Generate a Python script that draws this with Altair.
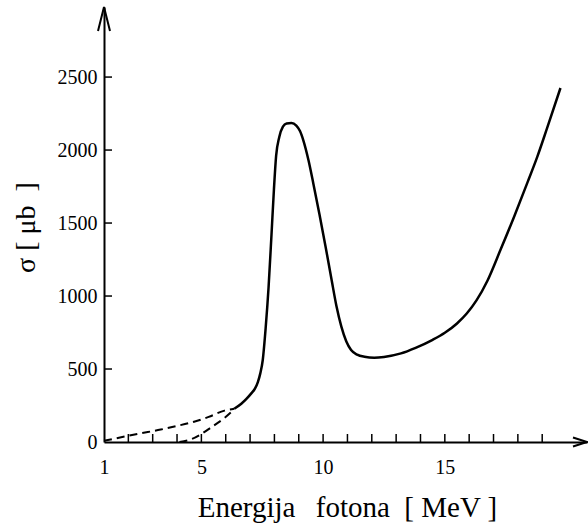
import altair as alt
import pandas as pd

# Solid measured curve
solid_x = [6.35, 6.64, 6.85, 7.05, 7.2, 7.32, 7.42, 7.52, 7.64, 7.76, 7.88, 7.98, 8.07, 8.2, 8.35,
           8.5, 8.7, 8.9, 9.05, 9.2, 9.4, 9.6, 9.85, 10.1, 10.35, 10.55, 10.75, 10.95, 11.15,
           11.4, 11.7, 12.1, 12.5, 13.2, 13.8, 14.5, 15.0, 15.5, 15.9, 16.3, 16.75, 17.3, 17.85,
           18.4, 18.8, 19.2, 19.75]
solid_y = [228, 262, 295, 333, 365, 410, 470, 560, 780, 1060, 1420, 1730, 1960, 2090, 2160,
           2182, 2185, 2168, 2130, 2060, 1930, 1770, 1560, 1340, 1110, 930, 790, 690, 630,
           598, 584, 578, 583, 607, 645, 700, 748, 812, 880, 970, 1105, 1322, 1545,
           1780, 1955, 2150, 2425]

# Dashed extrapolations
dash_up_x = [1.0, 1.84, 2.37, 3.33, 4.0, 4.7, 5.3, 5.95, 6.35]
dash_up_y = [8, 37, 55, 85, 110, 139, 172, 215, 228]
dash_lo_x = [4.1, 4.6, 5.0, 5.4, 5.95, 6.35]
dash_lo_y = [0, 20, 55, 100, 165, 224]

x_tick_vals = list(range(2, 20))
y_tick_vals = [500, 1000, 1500, 2000, 2500]
x_label_vals = [1, 5, 10, 15]
y_label_vals = [0, 500, 1000, 1500, 2000, 2500]

X_MIN, X_MAX = 1, 20.84
Y_MIN, Y_MAX = 0, 2980

FONT = "Liberation Serif"

xaxis = alt.Axis(values=x_label_vals, format="d", ticks=False, tickSize=0, grid=False,
                 domainColor="black", domainWidth=2, labelFont=FONT, labelFontSize=20,
                 labelColor="black", labelPadding=15, labelFlush=False,
                 title="Energija\u2002\u2009fotona\u2002[ MeV ]", titleFont=FONT,
                 titleFontSize=29, titleFontWeight="normal", titleColor="black",
                 titleBaseline="alphabetic", titleX=243, titleY=74, titleAlign="center")
yaxis = alt.Axis(values=y_label_vals, format="d", ticks=False, tickSize=0, grid=False,
                 domainColor="black", domainWidth=2, labelFont=FONT, labelFontSize=20,
                 labelColor="black", labelPadding=7, labelFlush=False,
                 title="σ [ μb\u2002]", titleFont=FONT, titleFontSize=28,
                 titleFontWeight="normal", titleColor="black", titleAngle=270,
                 titleBaseline="alphabetic", titleX=-70, titleY=220, titleAlign="center")

xs = alt.Scale(domain=[X_MIN, X_MAX], nice=False, zero=False)
ys = alt.Scale(domain=[Y_MIN, Y_MAX], nice=False, zero=False)

def X():
    return alt.X("x:Q", scale=xs, axis=xaxis)

def Y():
    return alt.Y("y:Q", scale=ys, axis=yaxis)

solid = alt.Chart(pd.DataFrame({"x": solid_x, "y": solid_y})).mark_line(
    color="black", strokeWidth=2.5, interpolate="monotone").encode(x=X(), y=Y())

dash_up = alt.Chart(pd.DataFrame({"x": dash_up_x, "y": dash_up_y})).mark_line(
    color="black", strokeWidth=2, strokeDash=[8, 5], interpolate="monotone").encode(x=X(), y=Y())

dash_lo = alt.Chart(pd.DataFrame({"x": dash_lo_x, "y": dash_lo_y})).mark_line(
    color="black", strokeWidth=2, strokeDash=[8, 5], interpolate="monotone").encode(x=X(), y=Y())

xticks = alt.Chart(pd.DataFrame({"x": x_tick_vals})).mark_rule(
    color="black", strokeWidth=1.5).encode(x=X(), y=alt.value(435), y2=alt.value(427))

yticks = alt.Chart(pd.DataFrame({"y": y_tick_vals})).mark_rule(
    color="black", strokeWidth=1.5).encode(y=Y(), x=alt.value(0), x2=alt.value(8))

x_arrow = alt.Chart(pd.DataFrame({"x": [X_MAX], "y": [0]})).mark_point(
    shape="M-1,-0.65L1,0L-1,0.65", filled=False, color="black", strokeWidth=2,
    size=196, xOffset=-7, opacity=1).encode(x=X(), y=Y())

y_arrow = alt.Chart(pd.DataFrame({"x": [X_MIN], "y": [Y_MAX]})).mark_point(
    shape="M-0.5,1L0,-1L0.5,1", filled=False, color="black", strokeWidth=2,
    size=576, yOffset=12, opacity=1).encode(x=X(), y=Y())

chart = alt.layer(solid, dash_up, dash_lo, xticks, yticks, x_arrow, y_arrow).properties(
    width=483, height=435,
    autosize=alt.AutoSizeParams(type="none"),
    padding={"left": 104, "top": 7, "right": 1, "bottom": 82},
    background="white",
).configure_view(stroke=None).configure_axis(labelFont=FONT, titleFont=FONT)

chart.save("out.html", embed_options={"renderer": "svg", "actions": False})
